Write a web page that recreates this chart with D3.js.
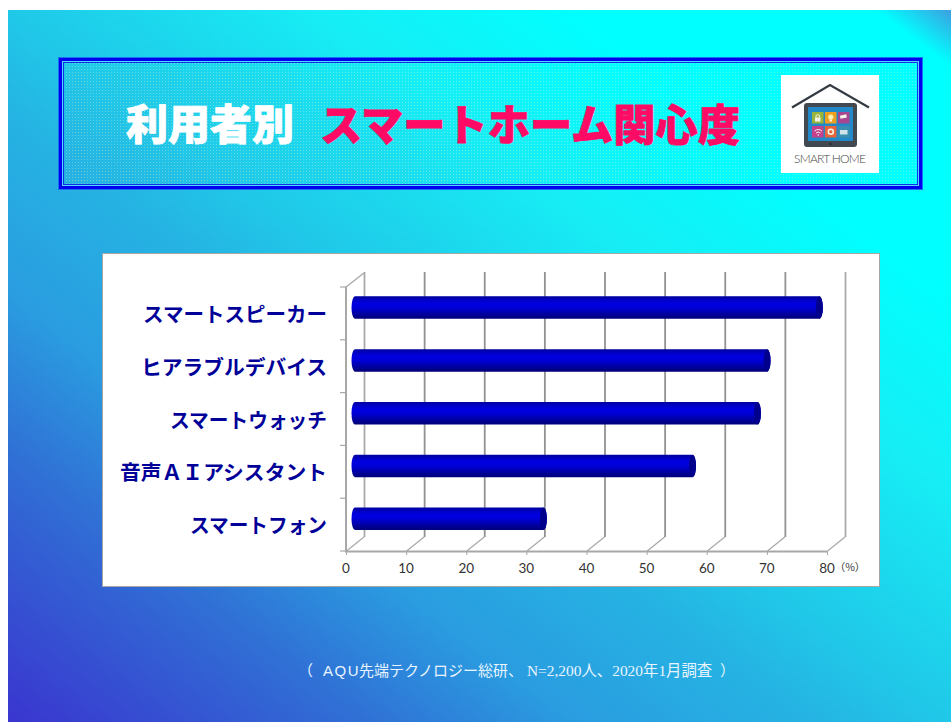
<!DOCTYPE html>
<html lang="ja">
<head>
<meta charset="utf-8">
<script src="https://cdn.jsdelivr.net/npm/d3@7/dist/d3.min.js"></script>
<style>
html,body{margin:0;padding:0;background:#fff;overflow:hidden}
svg{display:block}
</style>
</head>
<body>
<svg id="chart" width="951" height="722"></svg>
<script>
// Chart data
const categories = ["スマートスピーカー","ヒアラブルデバイス","スマートウォッチ","音声ＡＩアシスタント","スマートフォン"];
const interest = [78.4, 69.7, 68.1, 57.3, 32.5];
const xTicks = [0,10,20,30,40,50,60,70,80];

const svg = d3.select("#chart");
const defs = svg.append("defs");

// Slide background: corner-to-corner gradient in box units
const bg = defs.append("linearGradient").attr("id","bg")
  .attr("x1",0).attr("y1",1).attr("x2",1).attr("y2",0);
[[0,"#3a35cf"],[0.19,"#3070d5"],[0.3,"#2a9ce0"],[0.43,"#25b4e3"],[0.5,"#20c8e8"],[0.665,"#16eef5"],[0.8,"#00ffff"],[0.96,"#00ffff"],[1,"#3d9fe0"]]
  .forEach(([o,c])=>bg.append("stop").attr("offset",o).attr("stop-color",c));
svg.append("rect").attr("x",8).attr("y",10).attr("width",943).attr("height",712).attr("fill","url(#bg)");

// Title banner with a fine dot texture
const dots = defs.append("pattern").attr("id","dots").attr("patternUnits","userSpaceOnUse")
  .attr("width",3).attr("height",3);
dots.append("rect").attr("width",1).attr("height",1).attr("fill","#eaffd0").attr("opacity",0.32);
const bx=58, by=57, bw=865, bh=133;
svg.append("rect").attr("x",bx+2.5).attr("y",by+2.5).attr("width",bw-5).attr("height",bh-5)
  .attr("fill","none").attr("stroke","#0000f0").attr("stroke-width",4);
svg.append("rect").attr("x",bx+.5).attr("y",by+.5).attr("width",bw-1).attr("height",bh-1)
  .attr("fill","none").attr("stroke","#1a70f0").attr("stroke-width",1);
svg.append("rect").attr("x",bx+4.5).attr("y",by+4.5).attr("width",bw-9).attr("height",bh-9)
  .attr("fill","none").attr("stroke","#50d8ff").attr("stroke-width",1);
svg.append("rect").attr("x",bx+5.5).attr("y",by+5.5).attr("width",bw-11).attr("height",bh-11)
  .attr("fill","none").attr("stroke","#1030e8").attr("stroke-width",1);
svg.append("rect").attr("x",bx+6).attr("y",by+6).attr("width",bw-12).attr("height",bh-12)
  .attr("fill","url(#dots)");

const titleFont = "'Noto Sans CJK JP',sans-serif";
svg.append("text").attr("x",126).attr("y",140).attr("font-family",titleFont).attr("font-weight",900)
  .attr("font-size",42).attr("fill","#fff").attr("stroke","#fff").attr("stroke-width",0.8)
  .attr("stroke-linejoin","round")
  .attr("textLength",168).attr("lengthAdjust","spacingAndGlyphs").text("利用者別");
svg.append("text").attr("x",320).attr("y",141).attr("font-family",titleFont).attr("font-weight",900)
  .attr("font-size",43).attr("fill","#ff0a64").attr("stroke","#ff0a64").attr("stroke-width",0.8)
  .attr("stroke-linejoin","round")
  .attr("textLength",420).attr("lengthAdjust","spacingAndGlyphs").text("スマートホーム関心度");

// Smart home badge
const icon = svg.append("g");
icon.append("rect").attr("x",781).attr("y",75).attr("width",98).attr("height",98).attr("fill","#fff");
icon.append("path").attr("d","M792 107.5 L830 85 L869 107.5").attr("fill","none")
  .attr("stroke","#333a42").attr("stroke-width",2.2);
icon.append("rect").attr("x",804).attr("y",103).attr("width",53).attr("height",44).attr("rx",3).attr("fill","#41484f");
icon.append("rect").attr("x",808).attr("y",107).attr("width",45).attr("height",34).attr("fill","#2288c8");
icon.append("circle").attr("cx",830.5).attr("cy",144).attr("r",1).attr("fill","#222");
const tiles = ["#9ab53c","#f0a020","#a8478f","#c43f8c","#e8653a","#3b8fb0"];
tiles.forEach((c,i)=>icon.append("rect").attr("x",812+(i%3)*13).attr("y",112+Math.floor(i/3)*14)
  .attr("width",11.5).attr("height",11.5).attr("fill",c));
// Small pictograms on the tablet tiles
const pict = icon.append("g").attr("fill","#f4f4e8").attr("stroke","none");
pict.append("rect").attr("x",815).attr("y",117.5).attr("width",5.5).attr("height",4);
pict.append("path").attr("d","M816 117.5v-1.5a1.8 1.8 0 0 1 3.5 0v1.5").attr("fill","none").attr("stroke","#f4f4e8");
pict.append("circle").attr("cx",830.8).attr("cy",117).attr("r",2.6).attr("fill","#fff3b0");
pict.append("rect").attr("x",829.6).attr("y",119.5).attr("width",2.4).attr("height",2);
pict.append("rect").attr("x",840).attr("y",115).attr("width",6.5).attr("height",3.2).attr("transform","rotate(-12 843 116)");
pict.append("path").attr("d","M814.5 131a6 6 0 0 1 7.5 0M816 133a3.5 3.5 0 0 1 4.5 0").attr("fill","none").attr("stroke","#f4f4e8");
pict.append("circle").attr("cx",818.3).attr("cy",135).attr("r",.8);
pict.append("circle").attr("cx",830.8).attr("cy",131.7).attr("r",2.5).attr("fill","none").attr("stroke","#f4f4e8").attr("stroke-width",1.6);
pict.append("rect").attr("x",840).attr("y",130).attr("width",7.5).attr("height",4.5).attr("fill","#cfe3ea");
icon.append("text").attr("x",830).attr("y",163).attr("text-anchor","middle").attr("font-family","Lato,sans-serif")
  .attr("font-weight",300).attr("font-size",12).attr("textLength",72).attr("fill","#444").text("SMART HOME");

// Chart panel
svg.append("rect").attr("x",102.5).attr("y",253.5).attr("width",777).attr("height",333)
  .attr("fill","#fff").attr("stroke","#a6a6a6");

// Scales for the front plane of the 3D plot
const x = d3.scaleLinear().domain([0,80]).range([346,827]);
const y = d3.scaleBand().domain(categories).range([287,551]);
const depthX = 18, depthY = -14;
const wall = "#a8a8a8", grid = "#929292";

// Floor diagonals and back-wall gridlines
const plot = svg.append("g");
xTicks.forEach(t=>{
  plot.append("line").attr("x1",x(t)+.5).attr("y1",551).attr("x2",x(t)+depthX).attr("y2",551+depthY)
    .attr("stroke",wall).attr("stroke-width",1.3);
  plot.append("line").attr("x1",x(t)+depthX+.5).attr("y1",551+depthY).attr("x2",x(t)+depthX+.5).attr("y2",272)
    .attr("stroke",t===0||t===80?"#aaaaaa":grid).attr("stroke-width",1.8);
  plot.append("line").attr("x1",x(t)+.5).attr("y1",551).attr("x2",x(t)+.5).attr("y2",555)
    .attr("stroke",wall);
});
plot.append("line").attr("x1",346).attr("y1",287).attr("x2",364).attr("y2",273).attr("stroke",wall).attr("stroke-width",1.3);
plot.append("line").attr("x1",346).attr("y1",287).attr("x2",346).attr("y2",552).attr("stroke",wall).attr("stroke-width",2);
plot.append("line").attr("x1",345).attr("y1",551.5).attr("x2",827).attr("y2",551.5).attr("stroke",wall).attr("stroke-width",2);
y.domain().concat(["end"]).forEach((_,i)=>{
  const ty = 287 + i*y.step();
  plot.append("line").attr("x1",340).attr("x2",347).attr("y1",ty).attr("y2",ty).attr("stroke",wall).attr("stroke-width",1.2);
});

// Cylinder shading across the bar height
const cyl = defs.append("linearGradient").attr("id","cyl").attr("x1",0).attr("y1",0).attr("x2",0).attr("y2",1);
[[0,"#0000a0"],[0.3,"#0000e0"],[0.5,"#0000d8"],[0.8,"#00009c"],[1,"#000078"]]
  .forEach(([o,c])=>cyl.append("stop").attr("offset",o).attr("stop-color",c));

// Label run widths for proportional kana setting
const labelRun = d => ({9:d==="スマートスピーカー"?184:186,8:157,10:207,7:137})[d.length];

const barBase = 351.5, barH = 22.5, capR = 3.5;
const bars = svg.append("g").selectAll("g").data(categories).join("g");
bars.each(function(c,i){
  const g = d3.select(this);
  const cy = y(c) + y.bandwidth()/2 - 5.8;
  const x1 = barBase + x(interest[i]) - x(0);
  const r = barH/2;
  g.append("path")
    .attr("d",`M${barBase+capR} ${cy-r} H${x1-capR} A${capR} ${r} 0 0 1 ${x1-capR} ${cy+r} H${barBase+capR} A${capR} ${r} 0 0 1 ${barBase+capR} ${cy-r}Z`)
    .attr("fill","url(#cyl)");
  g.append("ellipse").attr("cx",x1-capR).attr("cy",cy).attr("rx",capR).attr("ry",r).attr("fill","#00008c");
  g.append("text").attr("x",327).attr("y",cy+14.3).attr("text-anchor","end")
    .attr("font-family",titleFont).attr("font-weight",700).attr("font-size",20.5).attr("fill","#000099")
    .attr("textLength",labelRun(c)).attr("lengthAdjust","spacingAndGlyphs")
    .text(c);
});

// Value axis labels
svg.append("g").selectAll("text").data(xTicks).join("text")
  .attr("x",d=>x(d)).attr("y",573).attr("text-anchor","middle")
  .attr("font-family","Lato,sans-serif").attr("font-size",13.5).attr("fill","#333")
  .text(d=>d);
svg.append("text").attr("x",850).attr("y",570.5).attr("text-anchor","middle")
  .attr("font-family",titleFont).attr("font-size",10.5).attr("fill","#333").text("（%）");

// Source note
const noteJa = "'Noto Sans CJK JP'";
const noteSerif = "'Liberation Serif','Noto Sans CJK JP'";
const note = svg.append("g").attr("fill","#e8f4ff");
[["（",298,noteJa,15,0],["AQU",323,"'Liberation Sans'",15,1.5],["先端テクノロジー総研、",359,noteJa,15,0],
 ["N=2,200人、2020年1月調査",527,noteSerif,15.4,0],["）",720,noteJa,15,0]]
  .forEach(([s,px,f,fs,ls])=>note.append("text").attr("x",px).attr("y",676).attr("font-family",f)
    .attr("font-size",fs).attr("letter-spacing",ls).text(s));
</script>
</body>
</html>
